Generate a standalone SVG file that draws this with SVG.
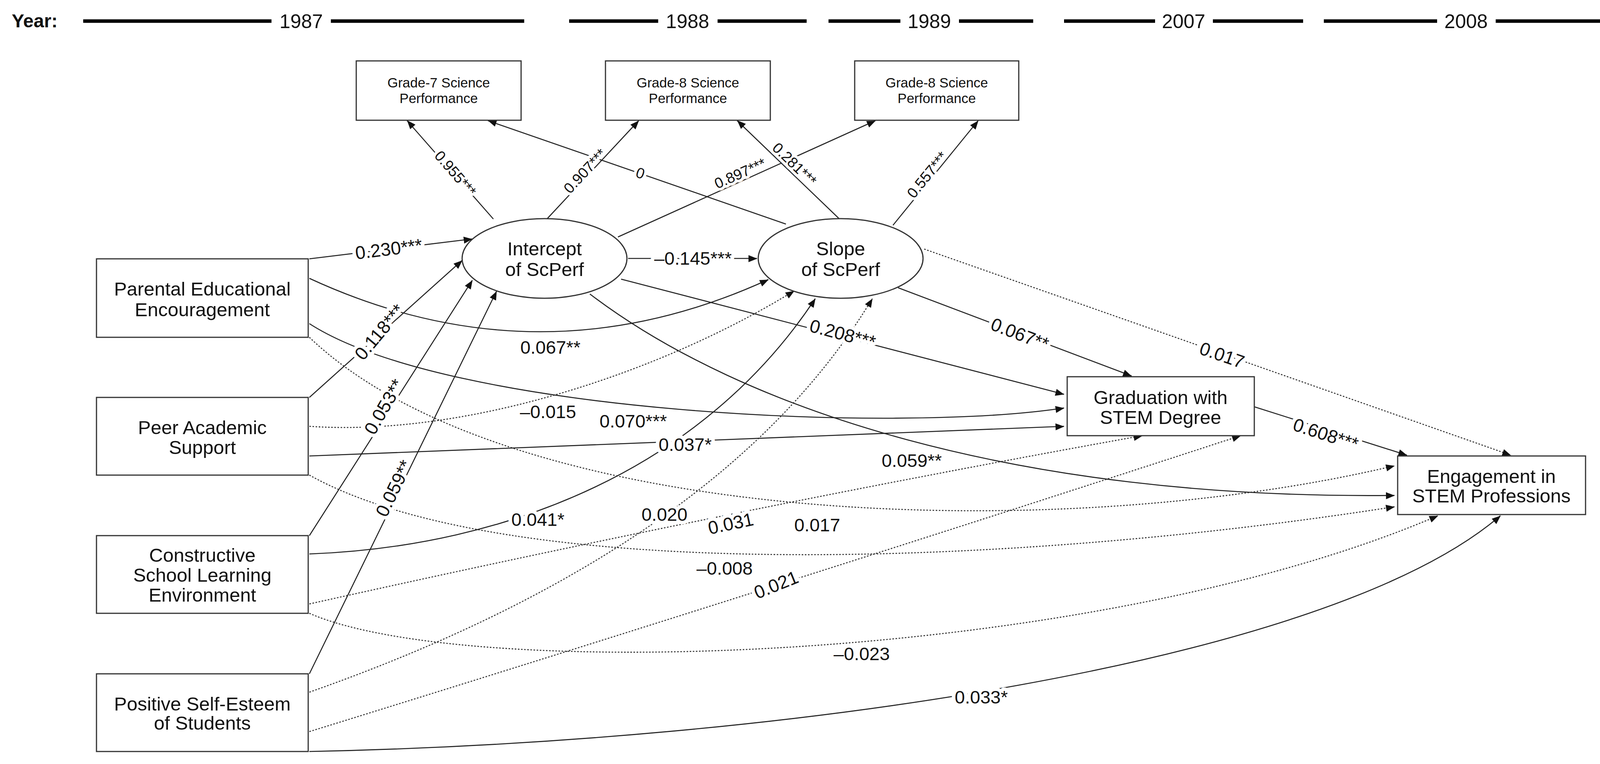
<svg xmlns="http://www.w3.org/2000/svg" width="4168" height="1957" viewBox="0 0 4168 1957">
<style>
text{font-family:"Liberation Sans",Arial,sans-serif;fill:#111}
.box{fill:#fff;stroke:#333;stroke-width:3}
.nt{font-size:49px;text-anchor:middle}
.gt{font-size:35px;text-anchor:middle}
.yr{font-size:50px;text-anchor:middle}
.yl{stroke:#000;stroke-width:9}
.e{fill:none;stroke:#222;stroke-width:2.6;marker-end:url(#a)}
.d{fill:none;stroke:#333;stroke-width:2.6;stroke-dasharray:4 4;marker-end:url(#a)}
.lb{font-size:47px;text-anchor:middle;stroke:#fff;stroke-width:18;paint-order:stroke;stroke-linejoin:round}
.sl{font-size:38px;stroke-width:14}
</style>
<defs>
<marker id="a" viewBox="0 0 10 10" refX="10" refY="5" markerWidth="8" markerHeight="8" markerUnits="userSpaceOnUse" orient="auto" style="overflow:visible">
<path d="M0,1 L10,5 L0,9 Z" fill="#111" transform="scale(2.8) translate(-6.2,-3)"/>
</marker>
</defs>
<g id="timeline">
<text x="30" y="70" font-size="48" font-weight="bold">Year:</text>
<line class="yl" x1="213" y1="54" x2="695" y2="54"/><text class="yr" x="771" y="72">1987</text><line class="yl" x1="847" y1="54" x2="1342" y2="54"/>
<line class="yl" x1="1457" y1="54" x2="1685" y2="54"/><text class="yr" x="1760" y="72">1988</text><line class="yl" x1="1837" y1="54" x2="2065" y2="54"/>
<line class="yl" x1="2121" y1="54" x2="2305" y2="54"/><text class="yr" x="2379" y="72">1989</text><line class="yl" x1="2455" y1="54" x2="2645" y2="54"/>
<line class="yl" x1="2724" y1="54" x2="2957" y2="54"/><text class="yr" x="3030" y="72">2007</text><line class="yl" x1="3105" y1="54" x2="3336" y2="54"/>
<line class="yl" x1="3389" y1="54" x2="3679" y2="54"/><text class="yr" x="3753" y="72">2008</text><line class="yl" x1="3829" y1="54" x2="4125" y2="54"/>
</g>
<g id="connectors">
<line class="e" x1="1263" y1="561" x2="1042" y2="309"/>
<line class="e" x1="1401" y1="560" x2="1635" y2="309"/>
<line class="e" x1="2012" y1="574" x2="1249" y2="309"/>
<line class="e" x1="1582" y1="607" x2="2241" y2="309"/>
<line class="e" x1="2148" y1="560" x2="1887" y2="309"/>
<line class="e" x1="2286" y1="577" x2="2504" y2="309"/>
<line class="e" x1="792" y1="663" x2="1209" y2="612"/>
<line class="e" x1="1608" y1="662" x2="1938" y2="662"/>
<path class="e" d="M792,713 Q1380,985 1967,716"/>
<path class="e" d="M792,829 C1150,1060 2300,1110 2724,1045"/>
<path class="d" d="M792,864 C1300,1350 2700,1400 3570,1193"/>
<line class="e" x1="792" y1="1018" x2="1183" y2="667"/>
<line class="e" x1="792" y1="1372" x2="1209" y2="718"/>
<line class="e" x1="792" y1="1726" x2="1271" y2="746"/>
<path class="d" d="M792,1092 C1200,1120 1700,950 2033,745"/>
<path class="e" d="M792,1419 C1300,1400 1800,1200 2087,765"/>
<path class="d" d="M792,1773 Q1850,1400 2233,765"/>
<line class="e" x1="1590" y1="715" x2="2724" y2="1010"/>
<line class="e" x1="2299" y1="737" x2="2897" y2="963"/>
<line class="d" x1="2366" y1="638" x2="3868" y2="1166"/>
<path class="e" d="M1510,753 C1900,1050 2600,1280 3570,1269"/>
<line class="e" x1="792" y1="1168" x2="2724" y2="1092"/>
<path class="d" d="M792,1217 C1300,1500 2600,1450 3570,1298"/>
<path class="d" d="M792,1547 Q1900,1300 2924,1116"/>
<path class="d" d="M792,1874 Q2000,1500 3176,1116"/>
<path class="d" d="M792,1571 C1200,1750 2800,1700 3681,1321"/>
<path class="e" d="M792,1925 C2000,1900 3400,1700 3841,1321"/>
<line class="e" x1="3211" y1="1042" x2="3602" y2="1166"/>
</g>
<g id="labels">
<text class="lb sl" transform="translate(1156,453) rotate(49)">0.955***</text>
<text class="lb sl" transform="translate(1507,447) rotate(-47)">0.907***</text>
<text class="lb sl" transform="translate(1635,456) rotate(19)">0</text>
<text class="lb sl" transform="translate(1900,456) rotate(-24)">0.897***</text>
<text class="lb sl" transform="translate(2025,430) rotate(44)">0.281***</text>
<text class="lb sl" transform="translate(2384,456) rotate(-51)">0.557***</text>
<text class="lb" transform="translate(997,654) rotate(-7)">0.230***</text>
<text class="lb" x="1774" y="678">–0.145***</text>
<text class="lb" x="1409" y="906">0.067**</text>
<text class="lb" transform="translate(984,861) rotate(-50)">0.118***</text>
<text class="lb" transform="translate(997,1050) rotate(-60)">0.053**</text>
<text class="lb" transform="translate(1023,1258) rotate(-64)">0.059**</text>
<text class="lb" transform="translate(2153,871) rotate(15)">0.208***</text>
<text class="lb" transform="translate(2605,871) rotate(21)">0.067**</text>
<text class="lb" transform="translate(3123,925) rotate(19)">0.017</text>
<text class="lb" x="1403" y="1071">–0.015</text>
<text class="lb" x="1621" y="1095">0.070***</text>
<text class="lb" x="1754" y="1155">0.037*</text>
<text class="lb" x="2334" y="1196">0.059**</text>
<text class="lb" x="1377" y="1347">0.041*</text>
<text class="lb" x="1701" y="1334">0.020</text>
<text class="lb" transform="translate(1874,1357) rotate(-12)">0.031</text>
<text class="lb" x="2092" y="1361">0.017</text>
<text class="lb" x="1855" y="1472">–0.008</text>
<text class="lb" transform="translate(1993,1513) rotate(-22)">0.021</text>
<text class="lb" x="2206" y="1691">–0.023</text>
<text class="lb" x="2512" y="1802">0.033*</text>
<text class="lb" transform="translate(3389,1128) rotate(18)">0.608***</text>
</g>
<g id="g7"><rect class="box" x="912" y="156" width="422" height="152"/><text class="gt" x="1123" y="224">Grade-7 Science</text><text class="gt" x="1123" y="264">Performance</text></g>
<g id="g8a"><rect class="box" x="1550" y="156" width="422" height="152"/><text class="gt" x="1761" y="224">Grade-8 Science</text><text class="gt" x="1761" y="264">Performance</text></g>
<g id="g8b"><rect class="box" x="2188" y="156" width="420" height="152"/><text class="gt" x="2398" y="224">Grade-8 Science</text><text class="gt" x="2398" y="264">Performance</text></g>
<g id="intercept"><ellipse class="box" cx="1394" cy="662" rx="211" ry="102"/><text class="nt" x="1394" y="654">Intercept</text><text class="nt" x="1394" y="707">of ScPerf</text></g>
<g id="slope"><ellipse class="box" cx="2152" cy="662" rx="211" ry="102"/><text class="nt" x="2152" y="654">Slope</text><text class="nt" x="2152" y="707">of ScPerf</text></g>
<g id="parental"><rect class="box" x="247" y="663" width="542" height="201"/><text class="nt" x="518" y="757">Parental Educational</text><text class="nt" x="518" y="810">Encouragement</text></g>
<g id="peer"><rect class="box" x="247" y="1018" width="542" height="199"/><text class="nt" x="518" y="1112">Peer Academic</text><text class="nt" x="518" y="1163">Support</text></g>
<g id="constructive"><rect class="box" x="247" y="1372" width="542" height="199"/><text class="nt" x="518" y="1439">Constructive</text><text class="nt" x="518" y="1490">School Learning</text><text class="nt" x="518" y="1541">Environment</text></g>
<g id="positive"><rect class="box" x="247" y="1726" width="542" height="199"/><text class="nt" x="518" y="1820">Positive Self-Esteem</text><text class="nt" x="518" y="1869">of Students</text></g>
<g id="graduation"><rect class="box" x="2732" y="965" width="479" height="151"/><text class="nt" x="2971" y="1035">Graduation with</text><text class="nt" x="2971" y="1086">STEM Degree</text></g>
<g id="engagement"><rect class="box" x="3578" y="1168" width="481" height="150"/><text class="nt" x="3818" y="1237">Engagement in</text><text class="nt" x="3818" y="1287">STEM Professions</text></g>
</svg>
